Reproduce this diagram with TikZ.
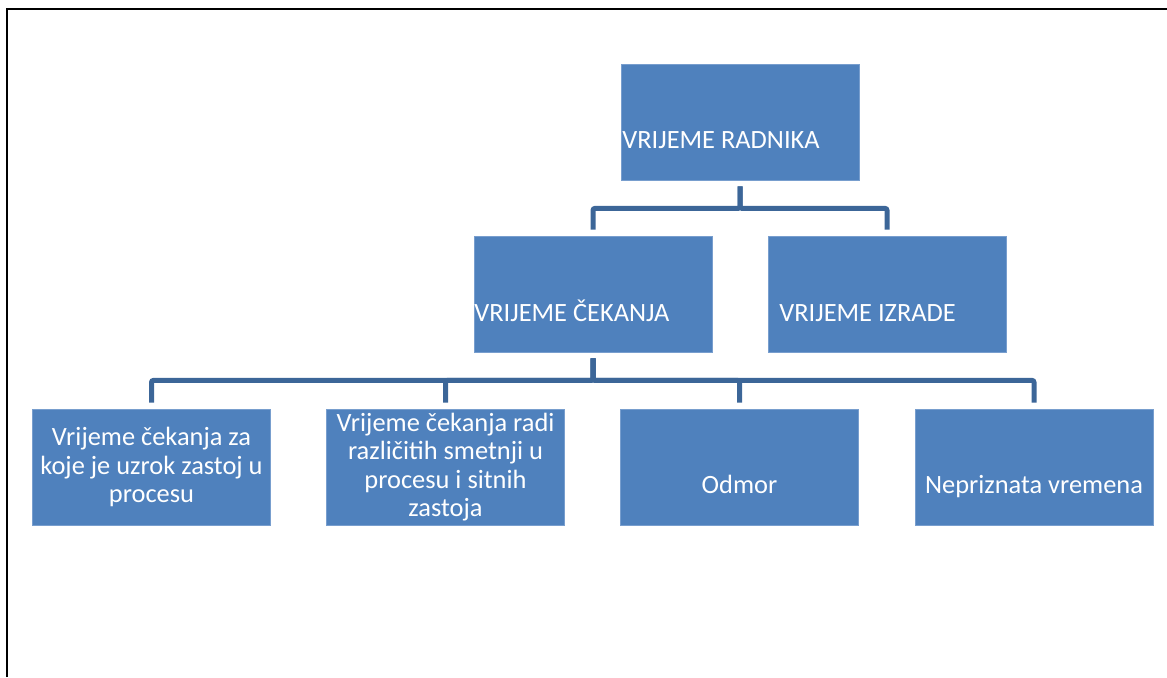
\documentclass[tikz,border=0pt]{standalone}
\usepackage{fontspec}
\setmainfont{Carlito}
\usepackage{tikz}
\usetikzlibrary{positioning}
\definecolor{boxblue}{RGB}{79,129,189}
\definecolor{boxedge}{RGB}{120,158,206}
\definecolor{connblue}{RGB}{60,102,152}

\begin{document}
\begin{tikzpicture}
[x=0.5pt, y=-0.5pt,
 box/.style={rectangle, fill=boxblue, draw=boxedge, line width=0.4pt, inner sep=0pt,
   minimum width=119pt, minimum height=58pt, text=white, align=center,
   font=\fontsize{13.2}{14.2}\selectfont},
 txt/.style={text=white, inner sep=0pt, font=\fontsize{13.2}{14.2}\selectfont},
 conn/.style={draw=connblue, line width=2.5pt, rounded corners=1pt,
   shorten <=3pt, shorten >=3pt}]
\useasboundingbox (0,0) rectangle (1167,677);
% frame
\draw[line width=1pt] (7,677) -- (7,9) -- (1167,9);
% top level
\node[box] (rad) at (740,122) {};
\node[txt, anchor=base west] (tRad) at (622,148) {VRIJEME RADNIKA};
% second level
\node[box] (cek) at (593,294) {};
\node[txt, anchor=base west] (tCek) at (474,321) {VRIJEME ČEKANJA};
\node[box] (izr) at (887,294) {};
\node[txt, anchor=base west] (tIzr) at (779,321) {VRIJEME IZRADE};
% third level
\node[box] (b1) at (151.5,467) {Vrijeme čekanja za\\koje je uzrok zastoj u\\procesu};
\node[box] (b2) at (445.5,467) {Vrijeme čekanja radi\\različitih smetnji u\\procesu i sitnih\\zastoja};
\node[box] (b3) at (739.5,467) {};
\node[txt, anchor=base] (tB3) at (739.5,493) {Odmor};
\node[box] (b4) at (1034,467) {};
\node[txt, anchor=base] (tB4) at (1034,493) {Nepriznata vremena};
% connectors
\draw[conn] (rad.south) -- ++(0,28) -| (cek.north);
\draw[conn] (rad.south) -- ++(0,28) -| (izr.north);
\draw[conn] (cek.south) -- ++(0,28) -| (b1.north);
\draw[conn] (cek.south) -- ++(0,28) -| (b2.north);
\draw[conn] (cek.south) -- ++(0,28) -| (b3.north);
\draw[conn] (cek.south) -- ++(0,28) -| (b4.north);
\end{tikzpicture}
\end{document}
